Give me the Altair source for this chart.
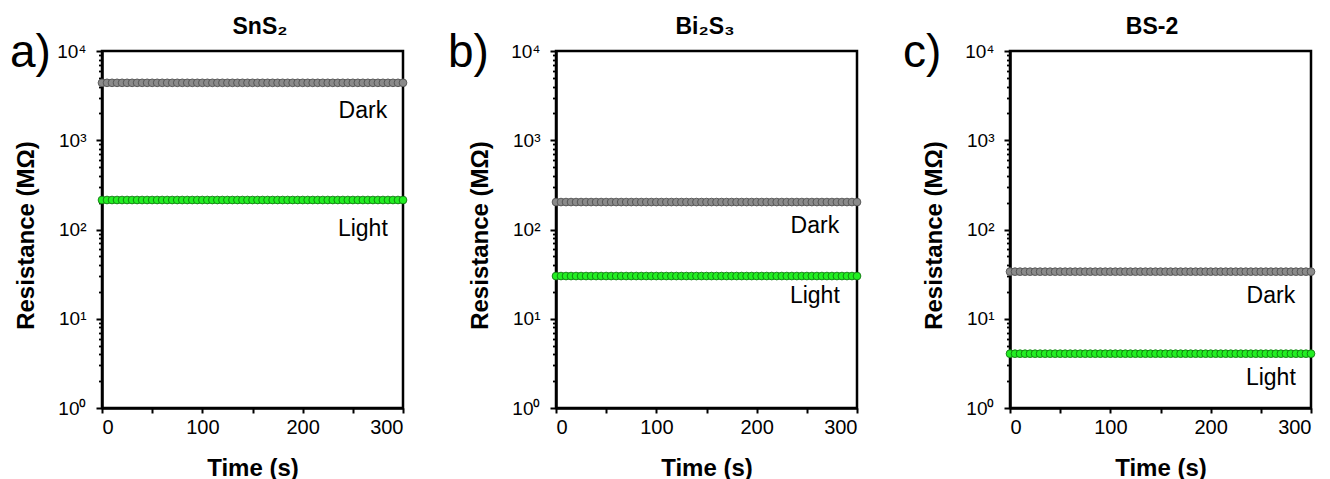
import altair as alt
import pandas as pd

# ---- data ----
time_s = list(range(0, 301, 5))
panel_titles = ["SnS₂", "Bi₂S₃", "BS-2"]
panel_letters = ["a)", "b)", "c)"]
dark_res = [4400, 203, 33.7]
light_res = [214, 30.1, 4.06]
dark_label_y = [2145, 109, 17.9]
light_label_y = [101, 17.9, 2.19]
label_x = [260, 258, 260]
letter_dx = [-92, -108, -107]
title_dx = [158, 149, 142]
major_y = [1, 10, 100, 1000, 10000]
minor_y = [m * 10 ** k for k in range(4) for m in range(2, 10)]
x_ticks = [0, 50, 100, 150, 200, 250, 300]

FONT = "Liberation Sans"
W, H = 301, 357

xscale = alt.Scale(domain=[0, 300], nice=False, zero=False)
yscale = alt.Scale(type="log", domain=[1, 10000], nice=False)


def x_enc(field="t"):
    return alt.X(
        f"{field}:Q",
        scale=xscale,
        axis=alt.Axis(
            values=x_ticks,
            labelExpr="datum.value % 100 == 0 ? datum.label : ''",
            title="Time (s)",
            titleFont=FONT,
            titleFontSize=24,
            titleFontWeight="bold",
            titleColor="black",
            titleBaseline="alphabetic",
            titleY=67,
            labelFont=FONT,
            labelFontSize=20,
            labelColor="black",
            labelPadding=4,
            tickSize=5,
            tickWidth=2,
            tickColor="black",
            domainColor="black",
            domainWidth=2.5,
            grid=False,
            format="d",
        ),
    )


def panel(i):
    n = len(time_s)
    df = pd.DataFrame(
        {
            "t": time_s * 2,
            "R": [dark_res[i]] * n + [light_res[i]] * n,
            "state": ["Dark"] * n + ["Light"] * n,
        }
    )
    y_major = alt.Y(
        "R:Q",
        scale=yscale,
        axis=alt.Axis(
            orient="left",
            values=major_y,
            labelExpr="'10' + ['⁰','¹','²','³','⁴'][round(log(datum.value)/LN10)]",
            title="Resistance (MΩ)",
            titleFont=FONT,
            titleFontSize=24,
            titleFontWeight="bold",
            titleColor="black",
            titleX=-76,
            titleY=184,
            titleBaseline="middle",
            labelFont=FONT,
            labelFontSize=19,
            labelColor="black",
            labelPadding=10,
            tickSize=6,
            tickWidth=2,
            tickColor="black",
            domainColor="black",
            domainWidth=2.5,
            grid=False,
        ),
    )
    pts = (
        alt.Chart(df)
        .mark_circle(size=60, strokeWidth=0.9, opacity=1)
        .encode(
            x=x_enc(),
            y=y_major,
            fill=alt.Fill(
                "state:N",
                scale=alt.Scale(domain=["Dark", "Light"], range=["#8a8a8a", "#22ee22"]),
                legend=None,
            ),
            stroke=alt.Stroke(
                "state:N",
                scale=alt.Scale(domain=["Dark", "Light"], range=["#505050", "#117711"]),
                legend=None,
            ),
        )
    )
    lab_df = pd.DataFrame(
        {
            "t": [label_x[i], label_x[i]],
            "y": [dark_label_y[i], light_label_y[i]],
            "s": ["Dark", "Light"],
        }
    )
    labels = (
        alt.Chart(lab_df)
        .mark_text(font=FONT, fontSize=23, color="black", align="center", baseline="middle")
        .encode(
            x=x_enc(),
            y=alt.Y(
                "y:Q",
                scale=yscale,
                axis=alt.Axis(
                    orient="left",
                    values=minor_y,
                    labels=False,
                    title=None,
                    domain=False,
                    tickSize=3.5,
                    tickWidth=1.8,
                    tickColor="black",
                    grid=False,
                ),
            ),
            text="s:N",
        )
    )
    ttl = (
        alt.Chart(pd.DataFrame({"s": [panel_titles[i]]}))
        .mark_text(font=FONT, fontSize=23, fontWeight="bold", color="black",
                   align="center", baseline="alphabetic")
        .encode(x=alt.value(title_dx[i]), y=alt.value(-17), text="s:N")
    )
    let = (
        alt.Chart(pd.DataFrame({"s": [panel_letters[i]]}))
        .mark_text(font=FONT, fontSize=46, color="black", align="left", baseline="alphabetic")
        .encode(x=alt.value(letter_dx[i]), y=alt.value(16), text="s:N")
    )
    return (
        alt.layer(pts, labels, ttl, let)
        .resolve_axis(y="independent")
        .properties(width=W, height=H)
    )


chart = (
    alt.hconcat(panel(0), panel(1), panel(2), spacing=153, bounds="flush")
    .properties(padding={"left": 8, "top": 14, "right": 0, "bottom": 0}, background="white")
    .configure_view(stroke="black", strokeWidth=2.5)
)

chart.save("out.html", embed_options={"renderer": "svg", "actions": False})
